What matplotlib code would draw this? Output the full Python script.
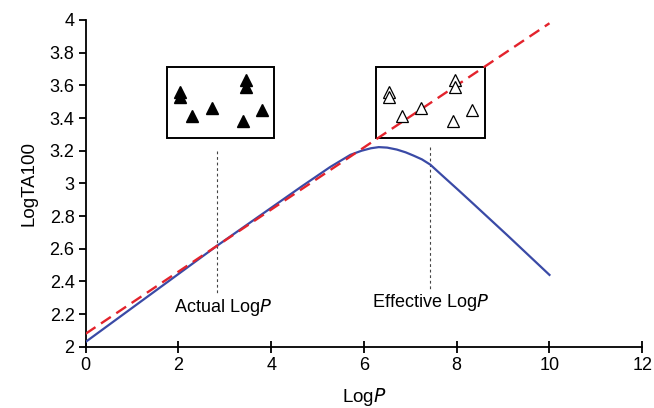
import matplotlib.pyplot as plt
from matplotlib.patches import Rectangle

plt.rcParams['font.family'] = ['Liberation Sans', 'DejaVu Sans']

# --- data ---
blue_x = [0, 2.84, 4.65, 5.27, 5.71, 5.95, 6.15, 6.32, 6.5, 6.71, 6.9, 7.07, 7.25, 7.43,
          7.65, 8.04, 8.37, 9.09, 10.0]
blue_y = [2.03, 2.62, 2.98, 3.10, 3.175, 3.20, 3.215, 3.222, 3.219, 3.207, 3.19, 3.17, 3.147, 3.115,
          3.058, 2.958, 2.872, 2.683, 2.44]

red_x = [0, 10]
red_y = [2.08, 3.98]

# inset markers (actual / effective)
actual_x = [2.04, 2.04, 2.30, 2.73, 3.46, 3.46, 3.40, 3.81]
actual_y = [3.56, 3.53, 3.41, 3.46, 3.63, 3.59, 3.38, 3.45]
eff_x = [6.55, 6.55, 6.83, 7.24, 7.97, 7.97, 7.91, 8.32]
eff_y = [3.56, 3.53, 3.41, 3.46, 3.63, 3.59, 3.38, 3.45]

# inset boxes: x0, x1, y0, y1
box_left = (1.76, 4.07, 3.28, 3.71)
box_right = (6.27, 8.60, 3.28, 3.71)

fig = plt.figure(figsize=(6.54, 4.08), dpi=100)
ax = fig.add_axes([0.131, 0.150, 0.851, 0.801])

ax.plot(blue_x, blue_y, color='#3a4aa6', lw=1.6, zorder=3)

for b in (box_left, box_right):
    ax.add_patch(Rectangle((b[0], b[2]), b[1] - b[0], b[3] - b[2],
                           facecolor='white', edgecolor='black', lw=1.4, zorder=2))

ax.plot(red_x, red_y, color='#e3232c', lw=1.7, ls=(0, (5, 2.8)), zorder=4)

ax.plot(actual_x, actual_y, ls='none', marker='^', ms=8.5, color='black', zorder=5)
ax.plot(eff_x, eff_y, ls='none', marker='^', ms=8.5, mfc='white', mec='black', mew=0.9, zorder=5)

# dotted guides
ax.plot([2.84, 2.84], [3.20, 2.32], color='#444444', lw=0.8, ls=(0, (2.5, 2.5)), zorder=1)
ax.plot([7.43, 7.43], [3.22, 2.35], color='#444444', lw=0.8, ls=(0, (2.5, 2.5)), zorder=1)

ax.text(2.95, 2.24, 'Actual Log$\\it{P}$', ha='center', va='center', fontsize=13)
ax.text(7.43, 2.27, 'Effective Log$\\it{P}$', ha='center', va='center', fontsize=13)

ax.set_xlim(0, 12)
ax.set_ylim(2, 4)
ax.set_xticks(range(0, 13, 2))
ax.set_yticks([2 + 0.2 * i for i in range(11)])
ax.set_yticklabels(['2', '2.2', '2.4', '2.6', '2.8', '3', '3.2', '3.4', '3.6', '3.8', '4'])
ax.tick_params(axis='x', direction='inout', length=8, width=1.3, labelsize=13, pad=3)
ax.tick_params(axis='y', direction='out', length=5, width=1.3, labelsize=13, pad=3)
for s in ('top', 'right'):
    ax.spines[s].set_visible(False)
for s in ('left', 'bottom'):
    ax.spines[s].set_linewidth(1.3)

ax.set_xlabel('Log$\\it{P}$', fontsize=13.5, labelpad=9)
ax.set_ylabel('LogTA100', fontsize=13.5, labelpad=9)

fig.savefig('out.png', dpi=100)
